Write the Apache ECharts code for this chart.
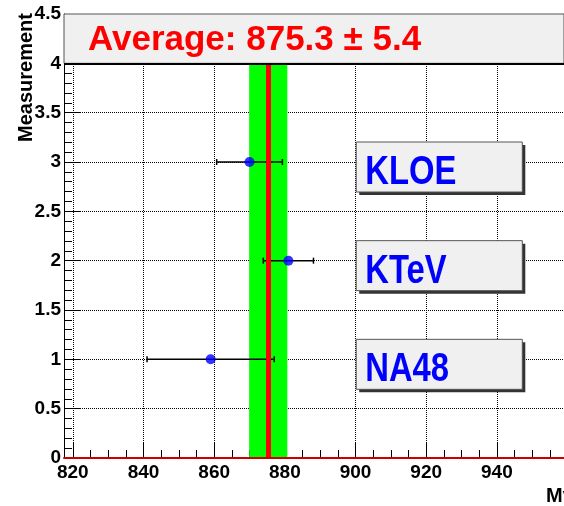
<!DOCTYPE html>
<html>
<head>
<meta charset="utf-8">
<script src="https://cdn.jsdelivr.net/npm/echarts@6/dist/echarts.min.js"></script>
<style>
html, body { margin: 0; padding: 0; background: #fff; }
#chart { width: 564px; height: 506px; }
</style>
</head>
<body>
<div id="chart"></div>
<script>
// measurements (x = value, y = row in the plot)
var experiments = ['NA48', 'KTeV', 'KLOE'];
var positions = [1, 2, 3];
var values = [859.0, 881.0, 870.0];
var errors = [18.0, 7.1, 9.3];

var average = 875.3;
var averageError = 5.4;

// axis ticks
var xTicks = [820, 840, 860, 880, 900, 920, 940];
var xMinorTicks = [820, 825, 830, 835, 840, 845, 850, 855, 860, 865, 870, 875, 880, 885, 890, 895,
                   900, 905, 910, 915, 920, 925, 930, 935, 940, 945, 950, 955];

var X_MIN = 817.5, X_MAX = 959;
var font = '"Liberation Sans", Arial, sans-serif';

var chart = echarts.init(document.getElementById('chart'));

var pointData = values.map(function (v, i) { return [v, positions[i]]; });
var errorData = values.map(function (v, i) { return [v, positions[i], errors[i]]; });
var labelData = positions.map(function (p, i) { return { name: experiments[i], value: [p] }; });

var option = {
    backgroundColor: '#fff',
    animation: false,
    title: {
        text: 'Average: ' + average.toFixed(1) + ' \u00b1 ' + averageError.toFixed(1),
        left: 88,
        top: 23,
        padding: 0,
        z: 10,
        textStyle: {
            color: '#ff0000',
            fontSize: 35,
            fontWeight: 'bold',
            fontFamily: font
        }
    },
    grid: {
        left: 64,
        top: 14,
        right: -9,
        bottom: 48
    },
    xAxis: [
        {
            type: 'value',
            min: X_MIN,
            max: X_MAX,
            position: 'bottom',
            axisLine: { show: true, lineStyle: { color: '#cc0000', width: 2 } },
            axisTick: { show: true, inside: true, length: 16, customValues: xTicks, lineStyle: { color: '#000' } },
            axisLabel: {
                customValues: xTicks,
                margin: 5,
                color: '#000',
                fontSize: 19,
                fontWeight: 'bold',
                fontFamily: font
            },
            splitLine: { show: true, lineStyle: { type: 'dotted', color: '#000', width: 1 } }
        },
        {
            type: 'value',
            min: X_MIN,
            max: X_MAX,
            position: 'bottom',
            axisLine: { show: false },
            axisTick: { show: true, inside: true, length: 8, customValues: xMinorTicks, lineStyle: { color: '#000' } },
            axisLabel: { show: false },
            splitLine: { show: false }
        }
    ],
    yAxis: {
        type: 'value',
        min: 0,
        max: 4.5,
        interval: 0.5,
        axisLine: { show: true, lineStyle: { color: '#000' } },
        axisTick: { show: true, inside: true, length: 17, lineStyle: { color: '#000' } },
        minorTick: { show: true, splitNumber: 5, length: 8, lineStyle: { color: '#000' } },
        axisLabel: {
            margin: 3,
            color: '#000',
            fontSize: 19,
            fontWeight: 'bold',
            fontFamily: font
        },
        splitLine: { show: true, lineStyle: { type: 'dotted', color: '#000', width: 1 } }
    },
    graphic: [
        {
            type: 'text',
            x: 26,
            y: 13,
            rotation: Math.PI / 2,
            style: {
                text: 'Measurement',
                font: 'bold 20px ' + font,
                textAlign: 'right',
                textVerticalAlign: 'middle',
                fill: '#000'
            }
        },
        {
            type: 'text',
            x: 546,
            y: 496,
            style: {
                text: 'Mv',
                font: 'bold 20px ' + font,
                textAlign: 'left',
                textVerticalAlign: 'middle',
                fill: '#000'
            }
        }
    ],
    series: [
        {
            // average +- error band
            type: 'line',
            data: [],
            z: 1,
            markArea: {
                silent: true,
                itemStyle: { color: '#00ff00' },
                data: [[{ coord: [average - averageError, 0] }, { coord: [average + averageError, 4] }]]
            }
        },
        {
            // average value
            type: 'line',
            data: [],
            z: 2,
            markLine: {
                silent: true,
                symbol: ['none', 'none'],
                label: { show: false },
                lineStyle: { color: '#ff0000', width: 5, type: 'solid' },
                data: [[{ coord: [average, 0] }, { coord: [average, 4] }]]
            }
        },
        {
            // horizontal error bars
            type: 'custom',
            z: 3,
            data: errorData,
            encode: { x: 0, y: 1 },
            renderItem: function (params, api) {
                var v = api.value(0), y = api.value(1), e = api.value(2);
                var lo = api.coord([v - e, y]);
                var hi = api.coord([v + e, y]);
                var st = { stroke: '#000', lineWidth: 1.5 };
                return {
                    type: 'group',
                    children: [
                        { type: 'line', shape: { x1: lo[0], y1: lo[1], x2: hi[0], y2: hi[1] }, style: st },
                        { type: 'line', shape: { x1: lo[0], y1: lo[1] - 3, x2: lo[0], y2: lo[1] + 3 }, style: st },
                        { type: 'line', shape: { x1: hi[0], y1: hi[1] - 3, x2: hi[0], y2: hi[1] + 3 }, style: st }
                    ]
                };
            }
        },
        {
            type: 'scatter',
            z: 4,
            symbol: 'circle',
            symbolSize: 10,
            itemStyle: { color: '#0000ff' },
            data: pointData
        },
        {
            // experiment name boxes
            type: 'custom',
            z: 4,
            clip: false,
            data: labelData,
            encode: { y: 0 },
            renderItem: function (params, api) {
                var p = api.value(0);
                var a = api.coord([900.2, p]);
                var b = api.coord([947.2, p]);
                var w = b[0] - a[0];
                return {
                    type: 'group',
                    children: [
                        { type: 'rect', shape: { x: a[0] + 3, y: a[1] - 17, width: w, height: 50 }, style: { fill: '#333' } },
                        { type: 'rect', shape: { x: a[0], y: a[1] - 20, width: w, height: 50 }, style: { fill: '#f0f0f0', stroke: '#555', lineWidth: 1 } },
                        {
                            type: 'text',
                            x: a[0] + 9,
                            y: a[1] + 11,
                            scaleX: 0.82,
                            style: {
                                text: experiments[params.dataIndex],
                                font: 'bold 40px ' + font,
                                fill: '#0000ff',
                                textAlign: 'left',
                                textVerticalAlign: 'middle'
                            }
                        }
                    ]
                };
            }
        },
        {
            // title box covering the 4 - 4.5 strip, plus frame lines
            type: 'line',
            data: [],
            z: 5,
            markArea: {
                silent: true,
                itemStyle: { color: '#f0f0f0', borderColor: '#555', borderWidth: 1 },
                data: [[{ coord: [X_MIN, 4] }, { coord: [X_MAX, 4.5] }]]
            },
            markLine: {
                silent: true,
                symbol: ['none', 'none'],
                label: { show: false },
                data: [
                    [{ coord: [X_MIN, 4], lineStyle: { color: '#000', width: 2, type: 'solid' } }, { coord: [X_MAX, 4] }],
                    [{ coord: [X_MIN, 0], lineStyle: { color: '#cc0000', width: 2, type: 'solid' } }, { coord: [X_MAX, 0] }]
                ]
            }
        }
    ]
};

chart.setOption(option);
</script>
</body>
</html>
